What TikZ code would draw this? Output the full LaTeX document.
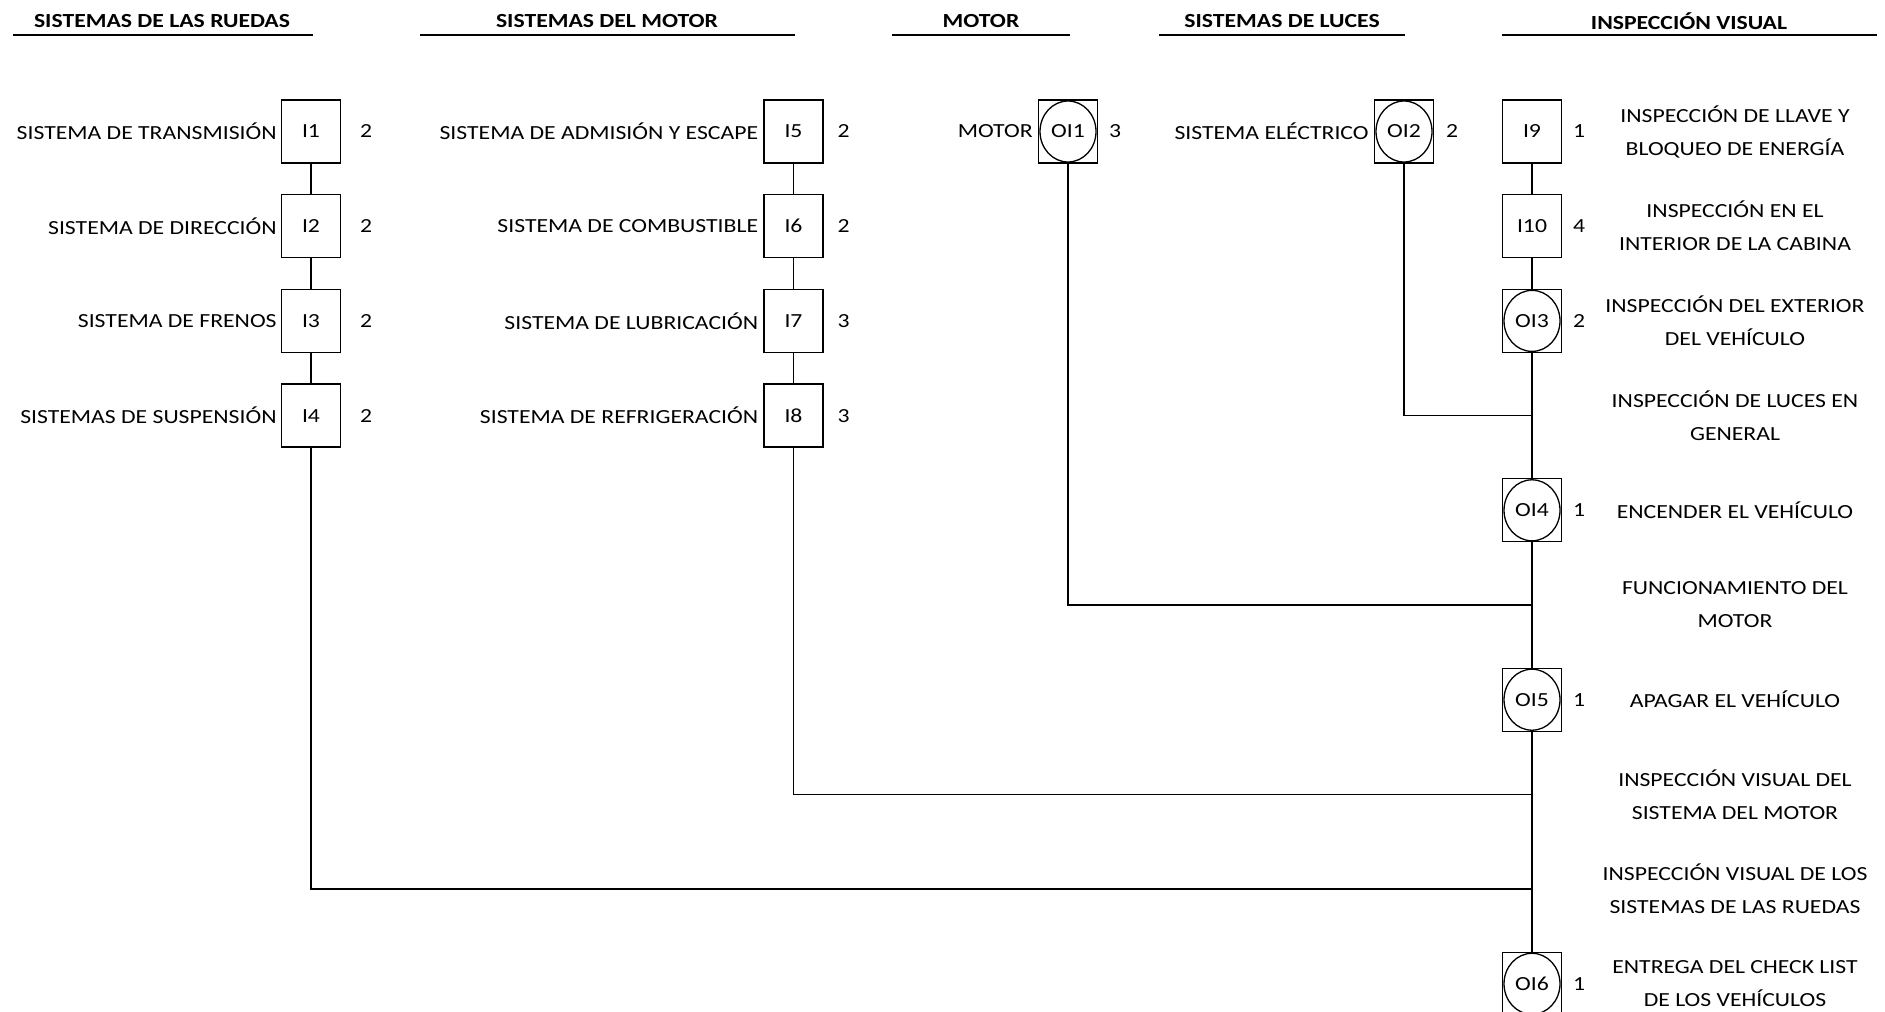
\documentclass[tikz,border=0pt]{standalone}
\usepackage{fontspec}
\setmainfont{Carlito}[FakeStretch=1.185]
\begin{document}
\begin{tikzpicture}[x=1pt,y=-1pt,
  conn/.style={draw, line width=1.3pt},
  box/.style={draw, line width=1.3pt, minimum width=59pt, minimum height=63pt, inner sep=0pt, font=\fontsize{20}{24}\selectfont},
  obox/.style={box, path picture={\draw[line width=1.3pt] (path picture bounding box.center) ellipse (28pt and 30.5pt);}},
  lbl/.style={anchor=east, inner sep=0pt, font=\fontsize{20}{24}\selectfont},
  num/.style={inner sep=0pt, font=\fontsize{20}{24}\selectfont},
  desc/.style={align=center, inner sep=0pt, font=\fontsize{20}{33}\selectfont},
  ttl/.style={inner sep=0pt, font=\bfseries\fontsize{20}{22}\selectfont},
  uline/.style={draw, line width=1.3pt}]
\useasboundingbox (0,0) rectangle (1885,1012);

% titles
\node[ttl] (t1) at (162,21) {SISTEMAS DE LAS RUEDAS};
\node[ttl] (t2) at (607,21) {SISTEMAS DEL MOTOR};
\node[ttl] (t3) at (981,21) {MOTOR};
\node[ttl] (t4) at (1282,21) {SISTEMAS DE LUCES};
\node[ttl] (t5) at (1689,21) {INSPECCIÓN VISUAL};
\coordinate (u1a) at (13,35);   \coordinate (u1b) at (313,35);
\coordinate (u2a) at (420,35);  \coordinate (u2b) at (795,35);
\coordinate (u3a) at (892,35);  \coordinate (u3b) at (1070,35);
\coordinate (u4a) at (1159,35); \coordinate (u4b) at (1405,35);
\coordinate (u5a) at (1502,35); \coordinate (u5b) at (1877,35);
\draw[uline] (u1a) -- (u1b);
\draw[uline] (u2a) -- (u2b);
\draw[uline] (u3a) -- (u3b);
\draw[uline] (u4a) -- (u4b);
\draw[uline] (u5a) -- (u5b);

% column A
\node[box] (I1) at (311,131.5) {I1};
\node[box] (I2) at (311,226.2) {I2};
\node[box] (I3) at (311,320.9) {I3};
\node[box] (I4) at (311,415.6) {I4};
\node[lbl] (L1) at ([xshift=-4pt]I1.west) {SISTEMA DE TRANSMISIÓN};
\node[lbl] (L2) at ([xshift=-4pt]I2.west) {SISTEMA DE DIRECCIÓN};
\node[lbl] (L3) at ([xshift=-4pt]I3.west) {SISTEMA DE FRENOS};
\node[lbl] (L4) at ([xshift=-4pt]I4.west) {SISTEMAS DE SUSPENSIÓN};
\node[num] (N1) at ([xshift=25pt]I1.east) {2};
\node[num] (N2) at ([xshift=25pt]I2.east) {2};
\node[num] (N3) at ([xshift=25pt]I3.east) {2};
\node[num] (N4) at ([xshift=25pt]I4.east) {2};

% column B
\node[box] (I5) at (793.5,131.5) {I5};
\node[box] (I6) at (793.5,226.2) {I6};
\node[box] (I7) at (793.5,320.9) {I7};
\node[box] (I8) at (793.5,415.6) {I8};
\node[lbl] (L5) at ([xshift=-5pt]I5.west) {SISTEMA DE ADMISIÓN Y ESCAPE};
\node[lbl] (L6) at ([xshift=-5pt]I6.west) {SISTEMA DE COMBUSTIBLE};
\node[lbl] (L7) at ([xshift=-5pt]I7.west) {SISTEMA DE LUBRICACIÓN};
\node[lbl] (L8) at ([xshift=-5pt]I8.west) {SISTEMA DE REFRIGERACIÓN};
\node[num] (N5) at ([xshift=20pt]I5.east) {2};
\node[num] (N6) at ([xshift=20pt]I6.east) {2};
\node[num] (N7) at ([xshift=20pt]I7.east) {3};
\node[num] (N8) at ([xshift=20pt]I8.east) {3};

% motor
\node[obox] (OI1) at (1068,131.5) {OI1};
\node[lbl] (L9) at ([xshift=-5pt]OI1.west) {MOTOR};
\node[num] (N9) at ([xshift=17pt]OI1.east) {3};

% luces
\node[obox] (OI2) at (1404,131.5) {OI2};
\node[lbl] (L10) at ([xshift=-5pt]OI2.west) {SISTEMA ELÉCTRICO};
\node[num] (N10) at ([xshift=18pt]OI2.east) {2};

% inspeccion visual
\node[box]  (I9)  at (1532,131.5) {I9};
\node[box]  (I10) at (1532,226.2) {I10};
\node[obox] (OI3) at (1532,320.9) {OI3};
\node[obox] (OI4) at (1532,510.3) {OI4};
\node[obox] (OI5) at (1532,699.7) {OI5};
\node[obox] (OI6) at (1532,983.8) {OI6};
\node[num] (N11) at ([xshift=17pt]I9.east) {1};
\node[num] (N12) at ([xshift=17pt]I10.east) {4};
\node[num] (N13) at ([xshift=17pt]OI3.east) {2};
\node[num] (N14) at ([xshift=17pt]OI4.east) {1};
\node[num] (N15) at ([xshift=17pt]OI5.east) {1};
\node[num] (N16) at ([xshift=17pt]OI6.east) {1};

\node[desc] (D1)  at (1735,131.5) {INSPECCIÓN DE LLAVE Y\\BLOQUEO DE ENERGÍA};
\node[desc] (D2)  at (1735,226.2) {INSPECCIÓN EN EL\\INTERIOR DE LA CABINA};
\node[desc] (D3)  at (1735,320.9) {INSPECCIÓN DEL EXTERIOR\\DEL VEHÍCULO};
\node[desc] (D4)  at (1735,415.6) {INSPECCIÓN DE LUCES EN\\GENERAL};
\node[desc] (D5)  at (1735,510.3) {ENCENDER EL VEHÍCULO};
\node[desc] (D6)  at (1735,605.0) {FUNCIONAMIENTO DEL\\MOTOR};
\node[desc] (D7)  at (1735,699.7) {APAGAR EL VEHÍCULO};
\node[desc] (D8)  at (1735,794.4) {INSPECCIÓN VISUAL DEL\\SISTEMA DEL MOTOR};
\node[desc] (D9)  at (1735,889.1) {INSPECCIÓN VISUAL DE LOS\\SISTEMAS DE LAS RUEDAS};
\node[desc] (D10) at (1735,983.8) {ENTREGA DEL CHECK LIST\\DE LOS VEHÍCULOS};

% junctions on main line
\coordinate (JL) at (1532,415.6);
\coordinate (JM) at (1532,605.0);
\coordinate (JS) at (1532,794.4);
\coordinate (JR) at (1532,889.1);

% connectors
\draw[conn] (I1) -- (I2);
\draw[conn] (I2) -- (I3);
\draw[conn] (I3) -- (I4);
\draw[conn] (I5) -- (I6);
\draw[conn] (I6) -- (I7);
\draw[conn] (I7) -- (I8);
\draw[conn] (I9) -- (I10);
\draw[conn] (I10) -- (OI3);
\draw[conn] (OI3) -- (OI4);
\draw[conn] (OI4) -- (OI5);
\draw[conn] (OI5) -- (OI6);
\draw[conn] (OI2.south) |- (JL);
\draw[conn] (OI1.south) |- (JM);
\draw[conn] (I8.south) |- (JS);
\draw[conn] (I4.south) |- (JR);
\end{tikzpicture}
\end{document}
